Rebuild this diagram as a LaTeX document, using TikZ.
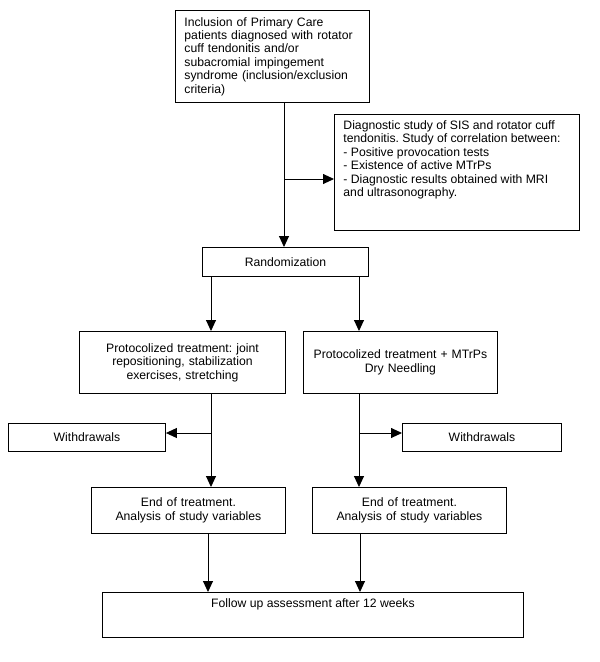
\documentclass[tikz,border=0pt]{standalone}
\usepackage{fontspec}
\setmainfont{Liberation Sans}
\usetikzlibrary{arrows.meta}
\frenchspacing
\begin{document}
\begin{tikzpicture}[x=1pt,y=-1pt,
  bx/.style={draw, line width=0.9pt, inner ysep=0pt, anchor=north west,
    font=\fontsize{12.2}{13.4}\selectfont},
  arr/.style={line width=0.9pt, -{Triangle[length=11pt,width=10pt]}}]
\useasboundingbox (0,0) rectangle (600,662);
\node[bx, minimum width=194pt, minimum height=92pt, inner xsep=9pt, text width=176pt, align=left] (incl) at (175,10)
 {Inclusion of Primary Care\\patients diagnosed with rotator\\cuff tendonitis and/or\\subacromial impingement\\syndrome (inclusion/exclusion\\criteria)};
\node[bx, inner sep=0pt] (diag) at (334,114)
 {\parbox[c][116pt][t]{245pt}{\leftskip=9pt\parindent=0pt\rule{0pt}{15pt}Diagnostic study of SIS and rotator cuff\\tendonitis. Study of correlation between:\\- Positive provocation tests\\- Existence of active MTrPs\\- Diagnostic results obtained with MRI\\and ultrasonography.}};
\node[bx, minimum width=166pt, minimum height=29pt, inner xsep=0pt, text width=166pt, align=center] (rand) at (202,247) {Randomization};
\node[bx, minimum width=206pt, minimum height=62pt, inner xsep=0pt, text width=206pt, align=center] (lt) at (79,331)
 {Protocolized treatment: joint\\repositioning, stabilization\\exercises, stretching};
\node[bx, minimum width=194pt, minimum height=62pt, inner xsep=0pt, text width=194pt, align=center] (rt) at (303,331)
 {Protocolized treatment + MTrPs\\Dry Needling};
\node[bx, minimum width=157pt, minimum height=28pt, inner xsep=0pt, text width=157pt, align=center] (wl) at (8,423) {Withdrawals};
\node[bx, minimum width=159pt, minimum height=28pt, inner xsep=0pt, text width=159pt, align=center] (wr) at (402,423) {Withdrawals};
\node[bx, minimum width=194pt, minimum height=46pt, inner xsep=0pt, text width=194pt, align=center] (le) at (91,487)
 {End of treatment.\\Analysis of study variables};
\node[bx, minimum width=194pt, minimum height=46pt, inner xsep=0pt, text width=194pt, align=center] (re) at (312,487)
 {End of treatment.\\Analysis of study variables};
\node[bx, inner sep=0pt] (fu) at (102,592)
 {\parbox[c][45pt][t]{421pt}{\centering\rule{0pt}{15pt}Follow up assessment after 12 weeks}};
% connectors
\draw[arr] (incl.south -| 284,0) -- (rand.north -| 284,0);
\coordinate (b1) at (284,179);
\draw[arr] (b1) -- (b1 -| diag.west);
\draw[arr] (rand.south -| 211,0) -- (lt.north -| 211,0);
\draw[arr] (rand.south -| 359,0) -- (rt.north -| 359,0);
\draw[arr] (lt.south -| 211,0) -- (le.north -| 211,0);
\draw[arr] (rt.south -| 359,0) -- (re.north -| 359,0);
\coordinate (b2) at (211,433);
\coordinate (b3) at (359,433);
\draw[arr] (b2) -- (b2 -| wl.east);
\draw[arr] (b3) -- (b3 -| wr.west);
\draw[arr] (le.south -| 208,0) -- (fu.north -| 208,0);
\draw[arr] (re.south -| 360,0) -- (fu.north -| 360,0);
\end{tikzpicture}
\end{document}
